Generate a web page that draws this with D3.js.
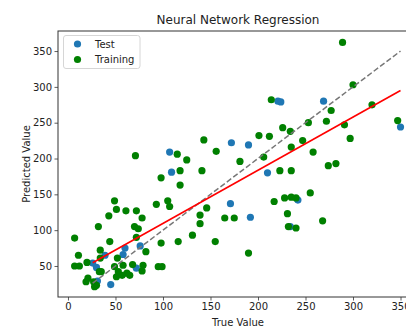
<!DOCTYPE html>
<html>
<head>
<meta charset="utf-8">
<script src="https://cdn.jsdelivr.net/npm/d3@7"></script>
<style>
  html, body { margin: 0; padding: 0; background: #fff; }
  svg { display: block; font-family: "DejaVu Sans", sans-serif; }
</style>
</head>
<body>
<svg id="chart" width="406" height="329"></svg>
<script>
// Test set: true vs predicted values
const testTrue = [107, 172, 221, 224, 269, 350, 190, 109, 210, 171, 242, 192, 234, 60, 58, 76, 39, 26, 30, 72, 31, 45];
const testPred = [209, 222, 280, 279, 280, 244, 219, 181, 180, 137, 142, 118, 105, 75, 66, 78, 65, 54, 48, 47, 29, 24];

// Training set: true vs predicted values
const trainTrue = [289, 300, 214, 277, 320, 272, 291, 253, 226, 234, 201, 212, 247, 235, 297, 347, 181, 206, 258, 274,
  282, 223, 235, 255, 217, 228, 235, 240, 231, 165, 175, 232, 240, 268, 190, 71, 115, 125, 143, 156,
  118, 141, 98, 118, 49, 51, 43, 61, 72, 78, 93, 105, 107, 146, 139, 139, 32, 70, 74, 72,
  131, 155, 44, 98, 116, 7, 82, 11, 34, 34, 52, 7, 12, 20, 33, 35, 49, 58, 68, 79,
  95, 99, 53, 62, 78, 57, 51, 65, 21, 19, 27, 30, 28];
const trainPred = [362, 303, 282, 267, 275, 252, 247, 250, 243, 238, 232, 231, 225, 216, 228, 253, 196, 202, 209, 190,
  193, 183, 183, 152, 140, 145, 146, 145, 123, 117, 117, 105, 103, 113, 68, 204, 206, 198, 226, 210,
  183, 183, 173, 163, 141, 129, 120, 127, 127, 117, 136, 141, 133, 131, 121, 109, 105, 105, 102, 90,
  93, 84, 84, 82, 84, 89, 70, 65, 72, 61, 61, 50, 50, 55, 42, 42, 49, 51, 52, 51,
  49, 49, 42, 40, 43, 37, 35, 37, 33, 28, 28, 23, 21];

// Linear fit of predictions against true values
const fitSlope = 0.742;
const fitIntercept = 35.3;

const xTicks = [0, 50, 100, 150, 200, 250, 300, 350];
const yTicks = [50, 100, 150, 200, 250, 300, 350];

const svg = d3.select("#chart");
const plotLeft = 58, plotRight = 418, plotTop = 31, plotBottom = 297;

const x = d3.scaleLinear().domain([-10.5, 368.4]).range([plotLeft, plotRight]);
const y = d3.scaleLinear().domain([6.7, 378]).range([plotBottom, plotTop]);

// axes
const xAxis = svg.append("g")
  .attr("transform", `translate(0,${plotBottom})`)
  .call(d3.axisBottom(x).tickValues(xTicks).tickSize(3.5).tickPadding(2.5));
const yAxis = svg.append("g")
  .attr("transform", `translate(${plotLeft},0)`)
  .call(d3.axisLeft(y).tickValues(yTicks).tickSize(3.5).tickPadding(2.5));
[xAxis, yAxis].forEach(g => {
  g.select(".domain").remove();
  g.selectAll("line").attr("stroke", "#333").attr("stroke-width", 0.8);
  g.selectAll("text").attr("font-size", 10).attr("fill", "#222")
    .attr("font-family", "DejaVu Sans, sans-serif");
});

// frame
svg.append("rect")
  .attr("x", plotLeft).attr("y", plotTop)
  .attr("width", plotRight - plotLeft).attr("height", plotBottom - plotTop)
  .attr("fill", "none").attr("stroke", "#333").attr("stroke-width", 1);

const plot = svg.append("g");

// points
const testData = testTrue.map((v, i) => [v, testPred[i]]);
const trainData = trainTrue.map((v, i) => [v, trainPred[i]]);

plot.selectAll("circle.test").data(testData).join("circle")
  .attr("class", "test")
  .attr("cx", d => x(d[0])).attr("cy", d => y(d[1]))
  .attr("r", 3.6).attr("fill", "#1f77b4");

plot.selectAll("circle.train").data(trainData).join("circle")
  .attr("class", "train")
  .attr("cx", d => x(d[0])).attr("cy", d => y(d[1]))
  .attr("r", 3.6).attr("fill", "green");

// identity line and fit line over the test range
const [xMin, xMax] = d3.extent(testTrue);
plot.append("line")
  .attr("x1", x(xMin)).attr("y1", y(xMin))
  .attr("x2", x(xMax)).attr("y2", y(xMax))
  .attr("stroke", "#777").attr("stroke-width", 1.5)
  .attr("stroke-dasharray", "5.5,2.5");

plot.append("line")
  .attr("x1", x(xMin)).attr("y1", y(fitIntercept + fitSlope * xMin))
  .attr("x2", x(xMax)).attr("y2", y(fitIntercept + fitSlope * xMax))
  .attr("stroke", "red").attr("stroke-width", 1.6);

// title and axis labels
svg.append("text")
  .attr("x", (plotLeft + plotRight) / 2).attr("y", 24)
  .attr("text-anchor", "middle").attr("font-size", 12).attr("fill", "#222")
  .text("Neural Network Regression");

svg.append("text")
  .attr("x", (plotLeft + plotRight) / 2).attr("y", 326)
  .attr("text-anchor", "middle").attr("font-size", 10).attr("fill", "#222")
  .text("True Value");

svg.append("text")
  .attr("transform", `translate(30,${(plotTop + plotBottom) / 2}) rotate(-90)`)
  .attr("text-anchor", "middle").attr("font-size", 10).attr("fill", "#222")
  .text("Predicted Value");

// legend
const legend = svg.append("g");
legend.append("rect")
  .attr("x", 63.5).attr("y", 35.5).attr("width", 76.5).attr("height", 33)
  .attr("rx", 2.5).attr("fill", "white").attr("fill-opacity", 0.85)
  .attr("stroke", "#d6d6d6").attr("stroke-width", 1);
const legendItems = [["Test", "#1f77b4"], ["Training", "green"]];
legendItems.forEach(([label, color], i) => {
  legend.append("circle")
    .attr("cx", 77.5).attr("cy", 44 + i * 15.5).attr("r", 3.6).attr("fill", color);
  legend.append("text")
    .attr("x", 95).attr("y", 47.5 + i * 15.5)
    .attr("font-size", 10).attr("fill", "#222").text(label);
});
</script>
</body>
</html>
